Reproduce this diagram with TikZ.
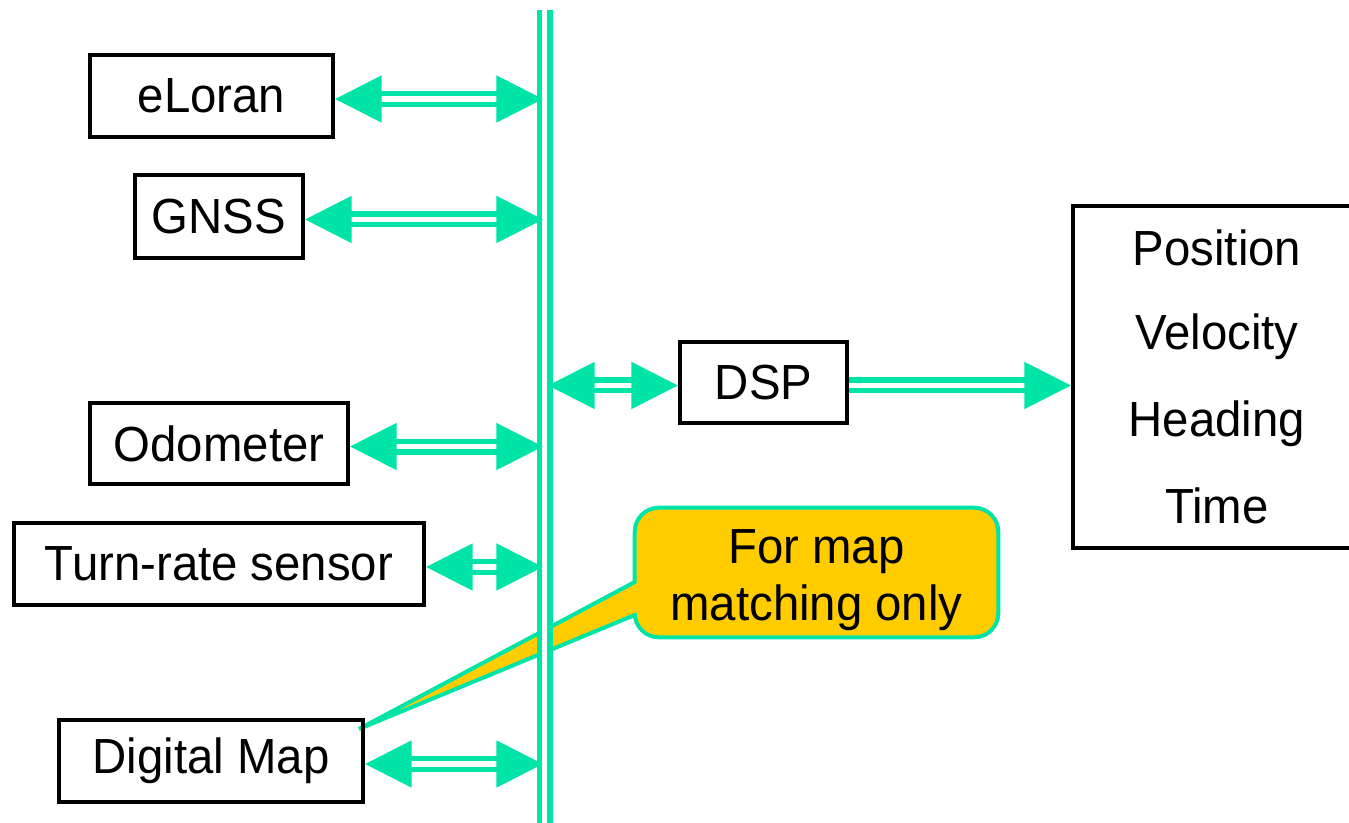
\documentclass[tikz,border=0pt]{standalone}
\usepackage{fontspec}
\setmainfont[FakeStretch=0.96]{Liberation Sans}
\usetikzlibrary{positioning, arrows.meta}

\definecolor{busgreen}{RGB}{0,228,168}
\definecolor{notegold}{RGB}{255,204,0}

\begin{document}
\begin{tikzpicture}[
    x=0.75pt, y=-0.75pt,
    font=\fontsize{37}{44}\selectfont,
    unitbox/.style={draw=black, line width=3pt, inner sep=0pt, align=center},
    busline/.style={draw=busgreen, line width=4pt, double=white, double distance=4pt},
    dblarr/.style={busline, transform canvas={yshift=-2.25pt},
        {Triangle[length=35pt, width=34.5pt]}-{Triangle[length=35pt, width=34.5pt]}},
    outarr/.style={busline, transform canvas={yshift=-2.25pt}, -{Triangle[length=35pt, width=34.5pt]}},
    notebox/.style={draw=busgreen, fill=notegold, line width=3pt}
]

\pgfdeclarelayer{background}
\pgfsetlayers{background,main}

\useasboundingbox (0,0) rectangle (1349,823);

% Sensors
\node[unitbox, minimum width=182.25pt, minimum height=61.5pt] (eloran) at (211.5,96) {eLoran};
\node[unitbox, minimum width=126pt, minimum height=62.25pt] (gnss) at (219,216.5) {GNSS};
\node[unitbox, minimum width=193.5pt, minimum height=60.75pt] (odo) at (219,443.5) {Odometer};
\node[unitbox, minimum width=307.5pt, minimum height=61.5pt] (turn) at (219,564) {Turn-rate sensor};
\node[unitbox, minimum width=228pt, minimum height=61.5pt] (map) at (211,761) {Digital Map};

% Processing and outputs
\node[unitbox, minimum width=125.25pt, minimum height=60.75pt] (dsp) at (763.5,382.5) {DSP};
\node[unitbox, minimum width=216pt, minimum height=256.5pt, font=\fontsize{37}{65}\selectfont] (pvt) at (1217,377)
    {\raisebox{-2pt}{Position}\\Velocity\\Heading\\Time};

% Callout
\node[minimum width=272.25pt, minimum height=96.75pt] (note) at (816.5,572.5) {};
\node[align=center, font=\fontsize{37}{43}\selectfont] (notetext) at ([yshift=-5.5pt]note.center) {For map\\matching only};
\coordinate (pin1) at (0,582);
\coordinate (pin2) at (0,615);
\coordinate (tip) at ([xshift=-4.5pt, yshift=-8.25pt]map.north east);
\begin{pgfonlayer}{background}
\draw[notebox] (note.west |- pin1) [rounded corners=18pt] -- (note.north west) -- (note.north east)
    -- (note.south east) -- (note.south west) [sharp corners] -- (note.west |- pin2) -- (tip) -- cycle;
\end{pgfonlayer}

% Bus
\coordinate (bustop) at (544.7,10);
\coordinate (busbot) at (544.7,830);
\coordinate (busL) at (543,0);
\coordinate (busR) at (548,0);
\draw[busline] (bustop) -- (busbot);

% Connections
\foreach \n in {eloran,gnss,odo,turn,map} {
    \draw[dblarr] (\n.east) -- (\n.east -| busL);
}
\draw[dblarr] (dsp.west -| busR) -- (dsp.west);
\draw[outarr] (dsp.east) -- (pvt.west |- dsp.east);

\end{tikzpicture}
\end{document}
